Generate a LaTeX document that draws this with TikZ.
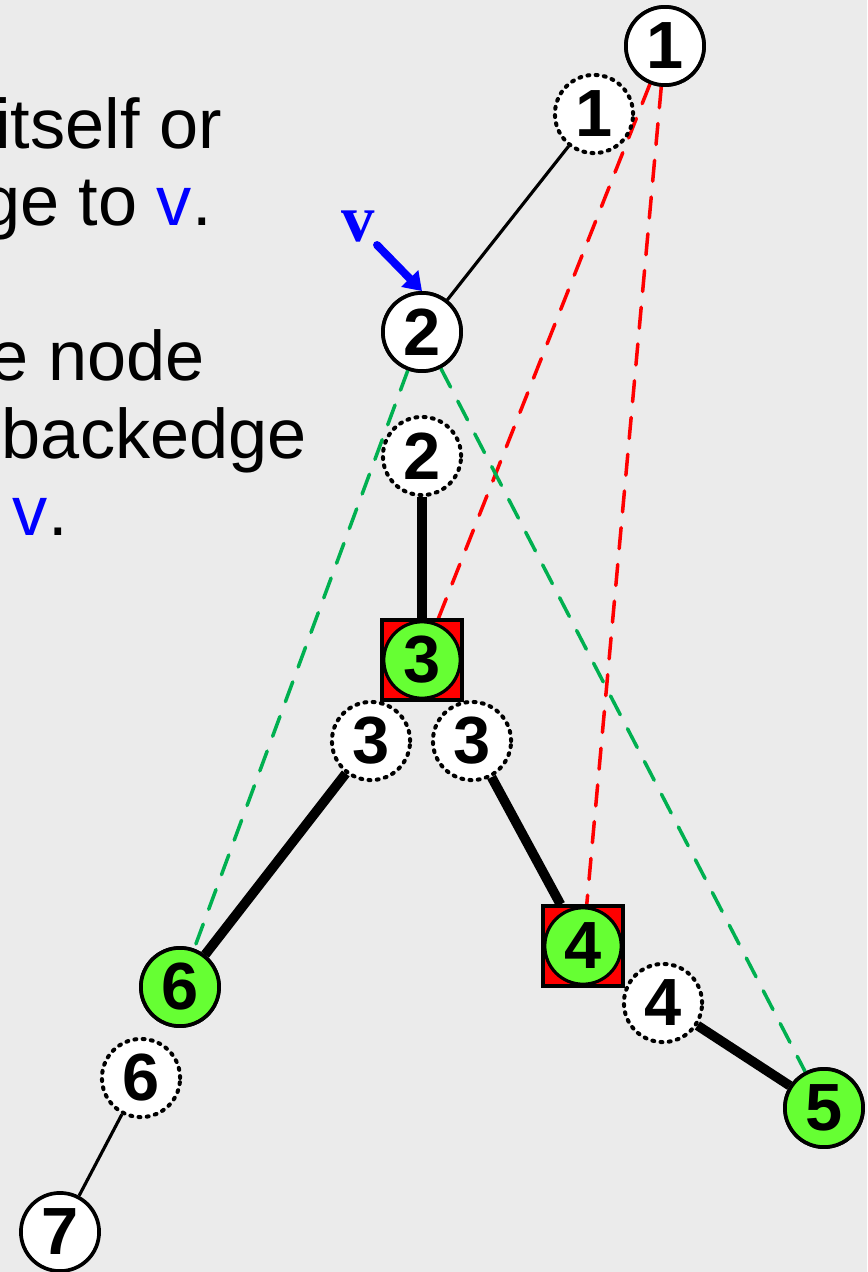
\documentclass[tikz,border=0pt]{standalone}
\usepackage{fontspec}
\setmainfont{Liberation Sans}
\newfontfamily\vserif{Liberation Serif}
\usetikzlibrary{arrows.meta}
\definecolor{bgc}{HTML}{EBEBEB}
\definecolor{ngreen}{HTML}{66FF33}
\definecolor{dgreen}{HTML}{00B050}
\definecolor{vblue}{HTML}{0000FF}
\tikzset{
  solidnode/.style={circle,draw=black,fill=white,line width=2.1pt,minimum size=44.5pt,inner sep=0pt,font=\bfseries\fontsize{38}{38}\selectfont},
  dotnode/.style={circle,draw=black,fill=white,line width=2.3pt,dash pattern=on 1.1pt off 3.6pt,line cap=round,minimum size=44.5pt,inner sep=0pt,font=\bfseries\fontsize{38}{38}\selectfont},
  greennode/.style={solidnode,fill=ngreen},
  sqnode/.style={rectangle,draw=black,fill=red,line width=1.8pt,minimum size=45.5pt,inner sep=0pt},
  sqcirc/.style={circle,draw=black,fill=ngreen,line width=1.8pt,minimum size=43.5pt,inner sep=0pt,font=\bfseries\fontsize{38}{38}\selectfont},
  thinedge/.style={line width=1.8pt,black},
  thickedge/.style={line width=5.5pt,black},
  reddash/.style={red,line width=2pt,dash pattern=on 12pt off 9pt,line cap=round},
  greendash/.style={dgreen,line width=2pt,dash pattern=on 12pt off 9pt,line cap=round},
  bodytext/.style={anchor=base east,inner sep=0pt,font=\fontsize{40}{40}\selectfont}
}
\begin{document}
\begin{tikzpicture}[x=0.02cm,y=-0.02cm]
\fill[bgc] (0,0) rectangle (867,1272);
\useasboundingbox (0,0) rectangle (867,1272);
% left text (cut off at the left edge, as in the reference)
\begin{scope}
\clip (0,0) rectangle (867,1272);
\node[bodytext] (t1) at (222,148) {itself or};
\node[bodytext] (t2) at (212,225) {ge to \textcolor{vblue}{v}.};
\node[bodytext] (t3) at (205,380) {e node};
\node[bodytext] (t4) at (307,458) {backedge};
\node[bodytext] (t5) at (68,535) {\textcolor{vblue}{v}.};
\end{scope}
% node coordinates
\coordinate (p1) at (665,46);
\coordinate (p1d) at (594,114);
\coordinate (p2) at (422,332);
\coordinate (p2d) at (422,456);
\coordinate (p3) at (422,660);
\coordinate (p3l) at (371,741);
\coordinate (p3r) at (472,741);
\coordinate (p4) at (583,946);
\coordinate (p4d) at (663,1003);
\coordinate (p5) at (824,1108);
\coordinate (p6) at (180,987);
\coordinate (p6d) at (141,1078);
\coordinate (p7) at (60,1232);
% squares first (for edge endpoints)
\node[sqnode] (sq3) at (p3) {};
\node[sqnode] (sq4) at (p4) {};
\path (p1) node[solidnode] (n1) {1};
\path (p2) node[solidnode] (n2) {2};
\path (p5) node[greennode] (n5) {5};
\path (p6) node[greennode] (n6) {6};
% dashed lines
\draw[reddash] (n1) -- (sq3);
\draw[reddash] (n1) -- (sq4);
\draw[greendash] (n2) -- (n6);
\draw[greendash] (n2) -- (n5);
% nodes on top
\node[solidnode] (n1b) at (p1) {1};
\node[dotnode] (d1) at (p1d) {1};
\node[solidnode] (n2b) at (p2) {2};
\node[dotnode] (d2) at (p2d) {2};
\node[sqnode] (sq3b) at (p3) {};
\node[sqcirc] (c3) at (p3) {3};
\node[dotnode] (d3l) at (p3l) {3};
\node[dotnode] (d3r) at (p3r) {3};
\node[sqnode] (sq4b) at (p4) {};
\node[sqcirc] (c4) at (p4) {4};
\node[dotnode] (d4) at (p4d) {4};
\node[greennode] (n5b) at (p5) {5};
\node[greennode] (n6b) at (p6) {6};
\node[dotnode] (d6) at (p6d) {6};
\node[solidnode] (n7) at (p7) {7};
% tree edges
\draw[thinedge] (d1) -- (n2b);
\draw[thickedge] (d2) -- (sq3b);
\draw[thickedge] (d3l) -- (n6b);
\draw[thickedge] (d3r) -- (sq4b);
\draw[thickedge] (d4) -- (n5b);
\draw[thinedge] (d6) -- (n7);
% v label and arrow
\node[inner sep=0pt,text=vblue,font=\vserif\bfseries\fontsize{38}{38}\selectfont] (vl) at (358,226) {v};
\coordinate (vs) at (377,245);
\draw[vblue,line width=4.5pt,line cap=round,-{Triangle[length=10pt,width=13pt]}] (vs) -- (n2b.north);
\end{tikzpicture}
\end{document}
